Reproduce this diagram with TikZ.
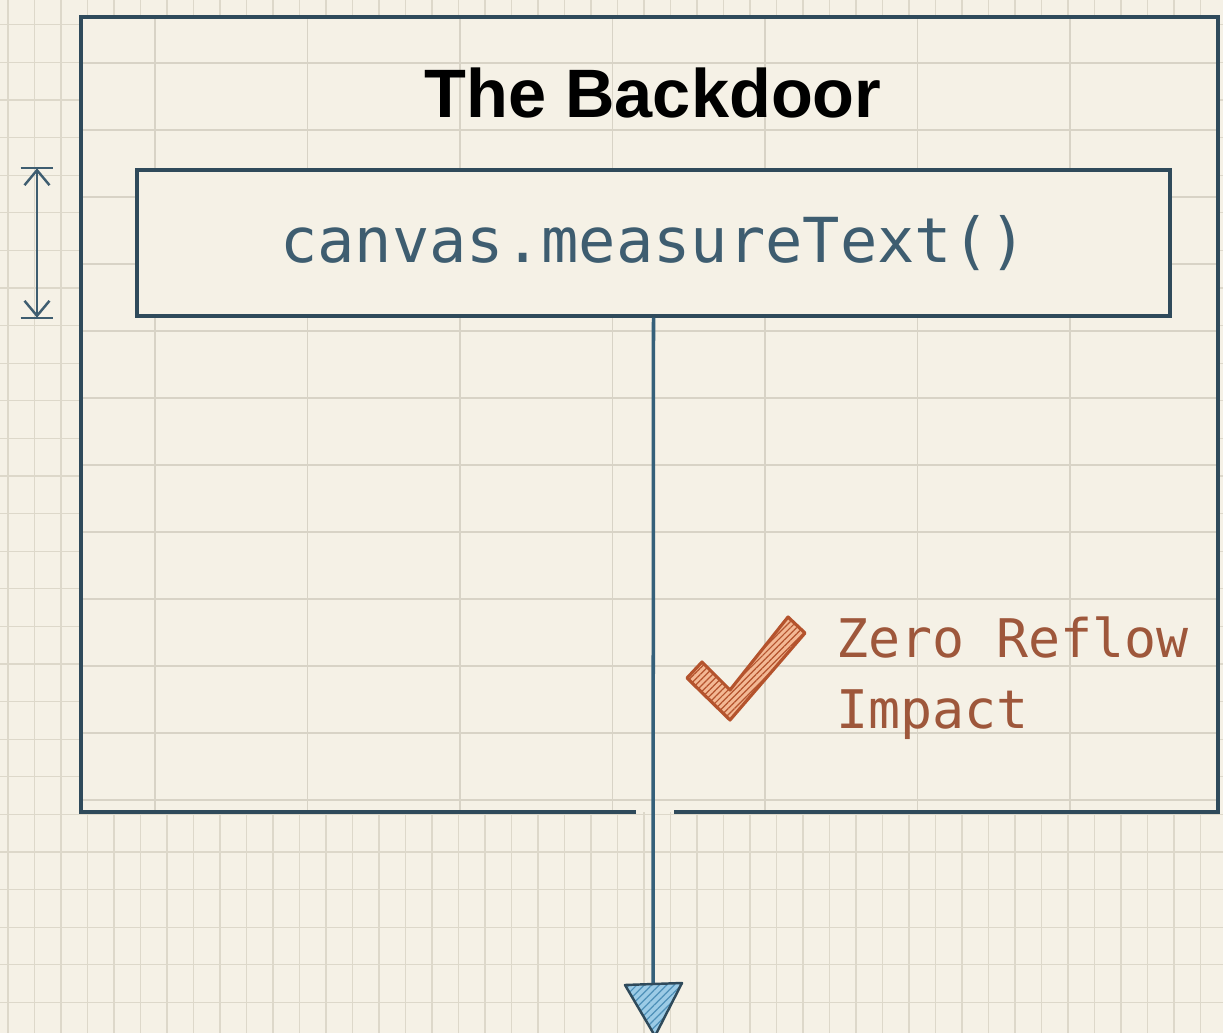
\documentclass[tikz,border=0pt]{standalone}
\usepackage{fontspec}
\newfontfamily\headfont{Liberation Sans}
\newfontfamily\codefont{DejaVu Sans Mono}
\usetikzlibrary{arrows.meta,patterns.meta,positioning}
\definecolor{paper}{HTML}{F5F1E6}
\definecolor{gridfine}{HTML}{DDD8CA}
\definecolor{gridcoarse}{HTML}{D8D3C6}
\definecolor{ink}{HTML}{2F4A5B}
\definecolor{codeink}{HTML}{3E5D70}
\definecolor{flowink}{HTML}{35607A}
\definecolor{headlight}{HTML}{9CCBE6}
\definecolor{headstripe}{HTML}{4E90B8}
\definecolor{checkink}{HTML}{B4532D}
\definecolor{checklight}{HTML}{F3B894}
\definecolor{noteink}{HTML}{9E573B}
\begin{document}
\begin{tikzpicture}[x=0.02cm,y=-0.02cm,
	fineline/.style={gridfine,line width=0.6pt},
	coarseline/.style={gridcoarse,line width=0.8pt},
	boxline/.style={ink,line width=2.3pt},
	title/.style={font=\headfont\bfseries\fontsize{39}{39}\selectfont,inner sep=0pt},
	codebox/.style={draw=ink,line width=2pt,fill=paper,minimum width=20.66cm,minimum height=2.92cm,
		inner sep=0pt,text=codeink,font=\codefont\fontsize{35.3}{36}\selectfont},
	flow/.style={flowink,line width=2pt},
	headfill/.style={draw=ink,line width=1.4pt,line join=round,preaction={fill=headlight},
		pattern={Lines[angle=45,distance=3pt,line width=0.7pt]},pattern color=headstripe},
	checkfill/.style={draw=checkink,line width=1.8pt,line join=round,preaction={fill=checklight},
		pattern={Lines[angle=45,distance=2.5pt,line width=0.7pt]},pattern color=checkink},
	note/.style={text=noteink,align=left,inner sep=0pt,font=\codefont\fontsize{30.3}{40}\selectfont},
	dimline/.style={codeink,line width=1.4pt}]
	\useasboundingbox (0,0) rectangle (1223,1033);
	\fill[paper] (0,0) rectangle (1223,1033);
	\foreach \x in {8,34.5,...,1223} \draw[fineline] (\x,0) -- (\x,1033);
	\foreach \y in {24.8,62.4,...,1033} \draw[fineline] (0,\y) -- (1223,\y);
	\fill[paper] (81,17) rectangle (1218,812);
	\begin{scope}
		\clip (81,17) rectangle (1218,812);
		\foreach \x in {155,307.5,...,1218} \draw[coarseline] (\x,17) -- (\x,812);
		\foreach \y in {63,130,...,812} \draw[coarseline] (81,\y) -- (1218,\y);
	\end{scope}
	\draw[boxline] (636,812) -| (81,17) -| (1218,812) -- (674,812);
	\node[title] (head) at (653,93) {The Backdoor};
	\node[codebox] (code) at (653.5,243) {\raisebox{-4pt}{canvas.measureText()}};
	\coordinate (tip) at (653,984);
	\draw[flow] (code.south) -- (tip);
	\path[headfill] (tip) +(-28,1) -- +(29,-1) -- +(2,52) -- cycle;
	\coordinate (dimx) at (37,0);
	\draw[dimline,{Straight Barb[length=0.3cm,width=0.5cm]}-{Straight Barb[length=0.3cm,width=0.5cm]}]
		(dimx |- code.north) -- (dimx |- code.south);
	\draw[dimline] ([xshift=-0.33cm]dimx |- code.north) -- ([xshift=0.33cm]dimx |- code.north);
	\draw[dimline] ([xshift=-0.33cm]dimx |- code.south) -- ([xshift=0.33cm]dimx |- code.south);
	\path[checkfill] (687,678) -- (702,662) -- (730,690) -- (788,617) -- (805,633) -- (730,720) -- cycle;
	\node[note,anchor=base west] (gain) at (836,728) {Zero Reflow\\Impact};
\end{tikzpicture}
\end{document}
